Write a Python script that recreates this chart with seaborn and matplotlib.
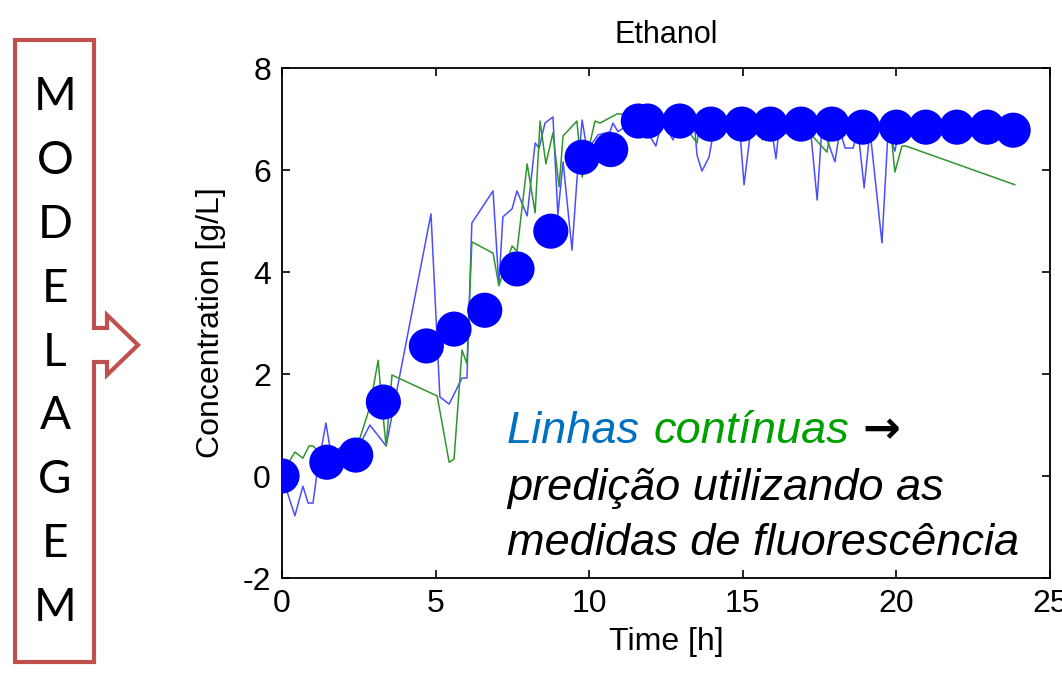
import matplotlib
matplotlib.use("Agg")
import matplotlib.pyplot as plt
from matplotlib.patches import Polygon
import seaborn as sns
import pandas as pd

# ---- data ----
meas_t = [0, 1.46, 2.4, 3.3, 4.7, 5.6, 6.6, 7.65, 8.75, 9.77, 10.7, 11.6, 11.9,
          12.95, 13.96, 14.97, 15.9, 16.9, 17.9, 18.9, 20.0, 20.96, 21.97, 22.95, 23.8]
meas_y = [0, 0.27, 0.41, 1.45, 2.55, 2.88, 3.25, 4.06, 4.8, 6.25, 6.4, 6.96, 6.96,
          6.96, 6.9, 6.9, 6.9, 6.9, 6.9, 6.84, 6.84, 6.84, 6.84, 6.84, 6.78]

blue_t = [0.0, 0.42, 0.68, 0.85, 1.01, 1.14, 1.43, 1.60, 1.89, 2.41, 2.86, 3.39, 4.85,
          5.14, 5.44, 5.86, 6.02, 6.18, 6.87, 7.06, 7.19, 7.49, 7.65, 7.98, 8.24, 8.37,
          8.56, 8.82, 8.98, 9.15, 9.44, 9.60, 9.77, 9.93, 10.29, 10.68, 10.77, 10.94,
          11.10, 11.65, 12.17, 12.37, 12.73, 12.96, 13.44, 13.51, 13.67, 13.90, 14.00,
          14.42, 14.91, 15.04, 15.23, 15.63, 15.98, 16.08, 16.15, 16.70, 17.19, 17.42,
          17.58, 18.00, 18.16, 18.33, 18.59, 18.75, 18.95, 19.14, 19.53, 19.73, 19.95,
          20.12, 21.09, 22.07, 23.05, 23.80]
blue_y = [0.0, -0.78, -0.20, -0.53, -0.53, 0.06, 1.04, 0.41, 0.22, 0.47, 1.00, 0.59, 5.14,
          1.55, 1.41, 1.92, 1.92, 4.96, 5.59, 3.75, 5.08, 5.24, 5.59, 5.10, 6.53, 6.43,
          6.92, 7.04, 5.12, 6.16, 4.43, 5.80, 6.98, 6.39, 6.69, 6.75, 6.92, 6.75,
          6.82, 6.98, 6.47, 6.98, 6.59, 6.94, 6.78, 6.29, 5.98, 6.25, 6.59,
          6.88, 6.73, 5.71, 6.65, 6.88, 6.63, 6.22, 6.63, 6.82, 6.88, 5.41,
          6.88, 6.16, 6.78, 6.43, 6.43, 6.78, 5.65, 6.78, 4.57, 6.78, 6.37,
          6.88, 6.84, 6.84, 6.82, 6.78]

green_t = [0.07, 0.42, 0.68, 0.88, 1.01, 1.30, 1.89, 2.54, 2.86, 3.13, 3.26, 3.39, 3.58,
           5.05, 5.21, 5.44, 5.60, 5.86, 6.02, 6.18, 6.87, 7.06, 7.49, 7.65, 7.98, 8.24,
           8.40, 8.59, 8.82, 9.02, 9.15, 9.60, 9.77, 10.19, 10.35, 10.91, 11.65, 12.30,
           12.96, 13.51, 13.61, 14.26, 15.56, 15.63, 15.72, 16.86, 17.74, 17.90, 18.82,
           19.79, 19.95, 20.18, 20.31, 23.86]
green_y = [0.12, 0.47, 0.35, 0.59, 0.59, 0.41, 0.55, 0.75, 1.35, 2.27, 1.35, 0.59, 1.98,
           1.57, 1.04, 0.27, 0.33, 2.47, 2.20, 4.59, 4.37, 3.73, 4.51, 4.41, 6.12, 5.16,
           6.96, 6.12, 6.73, 5.67, 6.67, 6.96, 5.86, 6.96, 6.92, 7.10, 7.08, 7.02,
           6.98, 6.53, 6.98, 6.94, 6.94, 6.59, 6.94, 6.94, 6.35, 6.94, 6.94,
           6.94, 5.96, 6.47, 6.47, 5.71]

x_ticks = [0, 5, 10, 15, 20, 25]
y_ticks = [-2, 0, 2, 4, 6, 8]
side_letters = list("MODELAGEM")

# ---- style ----
sns.set_style("ticks")
plt.rcParams['font.family'] = ['Liberation Sans', 'DejaVu Sans']
plt.rcParams['axes.unicode_minus'] = False
plt.rcParams['text.color'] = 'black'
plt.rcParams['axes.labelcolor'] = 'black'
plt.rcParams['xtick.color'] = 'black'
plt.rcParams['ytick.color'] = 'black'

W, H = 1062, 677
fig = plt.figure(figsize=(W / 100, H / 100), dpi=100)
fig.patch.set_facecolor("white")
ax = fig.add_axes([282 / W, 1 - 578 / H, (1050 - 282) / W, (578 - 68) / H])

blue_df = pd.DataFrame({"t": blue_t, "c": blue_y})
green_df = pd.DataFrame({"t": green_t, "c": green_y})
meas_df = pd.DataFrame({"t": meas_t, "c": meas_y})

sns.lineplot(data=blue_df, x="t", y="c", sort=False, estimator=None, ax=ax,
             color="#4d4dff", linewidth=1.1)
sns.lineplot(data=green_df, x="t", y="c", sort=False, estimator=None, ax=ax,
             color="#2e962e", linewidth=1.1)
sns.scatterplot(data=meas_df, x="t", y="c", ax=ax, color="#0000ff", s=640,
                edgecolor="none", zorder=5)

ax.set_xlim(0, 25)
ax.set_ylim(-2, 8)
ax.set_xticks(x_ticks)
ax.set_yticks(y_ticks)
ax.tick_params(direction="in", length=6, width=1.2, labelsize=23, top=True, right=True,
               pad=8, colors="black", labelcolor="black")
for s in ax.spines.values():
    s.set_linewidth(1.3)
    s.set_color("black")
ax.set_xlabel("Time [h]", fontsize=23, labelpad=6, color="black")
ax.set_ylabel("Concentration [g/L]", fontsize=23, labelpad=12, color="black")
ax.set_title("Ethanol", fontsize=22, pad=18, color="black")

# ---- annotation text ----
fs = 32.5
x0 = 507 / W
renderer = fig.canvas.get_renderer()
t1 = fig.text(x0, 1 - 443 / H, "Linhas", fontsize=fs, style="italic", color="#0070c0",
              va="baseline")
bb1 = t1.get_window_extent(renderer)
sp = 13 / W
t2 = fig.text(bb1.x1 / W + sp, 1 - 443 / H, "contínuas", fontsize=fs, style="italic",
              color="#00a000", va="baseline")
bb2 = t2.get_window_extent(renderer)
fig.text(bb2.x1 / W + sp, 1 - 443 / H, "→", fontsize=fs, fontweight="bold",
         color="black", va="baseline", family=['DejaVu Sans'])
fig.text(x0, 1 - 500 / H, "predição utilizando as", fontsize=fs, style="italic",
         color="black", va="baseline")
fig.text(x0, 1 - 555 / H, "medidas de fluorescência", fontsize=fs, style="italic",
         color="black", va="baseline")

# ---- left box with arrow ----
pts_px = [(94, 40), (94, 328), (107, 328), (107, 315), (138, 345), (107, 375),
          (107, 362), (94, 362), (94, 662), (15, 662), (15, 40)]
pts = [(x / W, 1 - y / H) for x, y in pts_px]
fig.patches.append(Polygon(pts, closed=True, fill=False, edgecolor="#c0504d",
                           linewidth=3, transform=fig.transFigure, joinstyle="miter"))
for i, ch in enumerate(side_letters):
    yc = 97 + i * 63.9
    fig.text(55 / W, 1 - yc / H, ch, fontsize=33, family=['Lato', 'DejaVu Sans'],
             ha="center", va="center", color="black")

fig.savefig("out.png", dpi=100)
